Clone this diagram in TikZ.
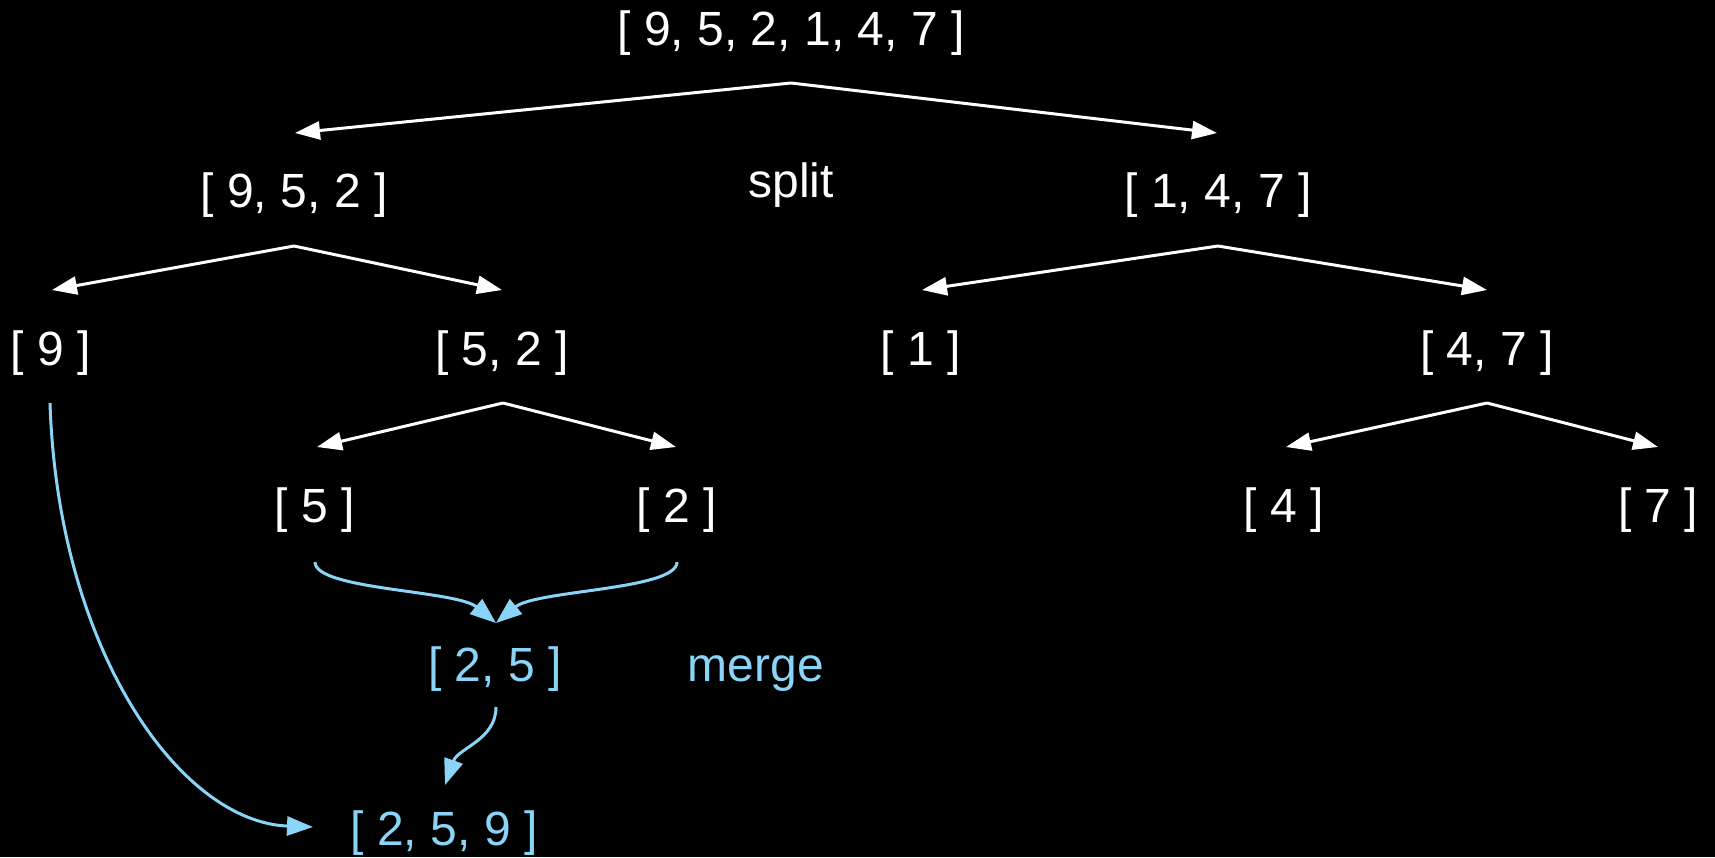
\documentclass[tikz,border=0pt]{standalone}
\usepackage{fontspec}
\setmainfont{Liberation Sans}
\usetikzlibrary{arrows.meta}
\definecolor{mblue}{RGB}{137,212,247}
\begin{document}
\begin{tikzpicture}[x=1pt,y=-1pt,
  lbl/.style={anchor=base, inner sep=0pt, font=\fontsize{48}{58}\selectfont, text=white},
  blbl/.style={lbl, text=mblue},
  splitarrow/.style={draw=white, line width=3pt, -{Triangle[length=25pt,width=18pt]}},
  mergearrow/.style={draw=mblue, line width=3pt, -{Triangle[length=26pt,width=19pt]}}]
\fill[black] (0,0) rectangle (1715,857);
\useasboundingbox (0,0) rectangle (1715,857);

% nodes
\node[lbl] (top) at (791,45) {[ 9, 5, 2, 1, 4, 7 ]};
\node[lbl] (l952) at (294,207) {[ 9, 5, 2 ]};
\node[lbl] (splitlbl) at (791,197) {split};
\node[lbl] (r147) at (1218,207) {[ 1, 4, 7 ]};
\node[lbl] (n9) at (51,365) {[ 9 ]};
\node[lbl] (n52) at (502,365) {[ 5, 2 ]};
\node[lbl] (n1) at (921,365) {[ 1 ]};
\node[lbl] (n47) at (1487,365) {[ 4, 7 ]};
\node[lbl] (n5) at (315,522) {[ 5 ]};
\node[lbl] (n2) at (677,522) {[ 2 ]};
\node[lbl] (n4) at (1284,522) {[ 4 ]};
\node[lbl] (n7) at (1658,522) {[ 7 ]};
\node[blbl] (n25) at (495,681) {[ 2, 5 ]};
\node[blbl] (mergelbl) at (756,681) {merge};
\node[blbl] (n259) at (444,845) {[ 2, 5, 9 ]};

% split connector end points
\coordinate (a0) at (791,83);
\coordinate (t0l) at (295,133);
\coordinate (t0r) at (1217,133);
\coordinate (a1) at (294,246);
\coordinate (t1l) at (52,290);
\coordinate (t1r) at (502,290);
\coordinate (a2) at (1218,246);
\coordinate (t2l) at (922,290);
\coordinate (t2r) at (1487,290);
\coordinate (a3) at (503,403);
\coordinate (t3l) at (317,447);
\coordinate (t3r) at (676,447);
\coordinate (a4) at (1487,403);
\coordinate (t4l) at (1286,447);
\coordinate (t4r) at (1658,447);

\draw[splitarrow] (a0) -- (t0l);
\draw[splitarrow] (a0) -- (t0r);
\draw[splitarrow] (a1) -- (t1l);
\draw[splitarrow] (a1) -- (t1r);
\draw[splitarrow] (a2) -- (t2l);
\draw[splitarrow] (a2) -- (t2r);
\draw[splitarrow] (a3) -- (t3l);
\draw[splitarrow] (a3) -- (t3r);
\draw[splitarrow] (a4) -- (t4l);
\draw[splitarrow] (a4) -- (t4r);

% merge connector end points
\coordinate (m5) at (315,562);
\coordinate (m2) at (677,562);
\coordinate (m25tip) at (496,623);
\coordinate (m25out) at (496,707);
\coordinate (m259tip) at (445,785);
\coordinate (m9) at (50,403);
\coordinate (m9tip) at (313,827);

\draw[mergearrow] (m5) .. controls (315,590) and (456,590) .. (m25tip);
\draw[mergearrow] (m2) .. controls (677,590) and (536,590) .. (m25tip);
\draw[mergearrow] (m25out) .. controls (496,740) and (458,748) .. (m259tip);
\draw[mergearrow] (m9) .. controls (58,650) and (180,822) .. (m9tip);
\end{tikzpicture}
\end{document}
